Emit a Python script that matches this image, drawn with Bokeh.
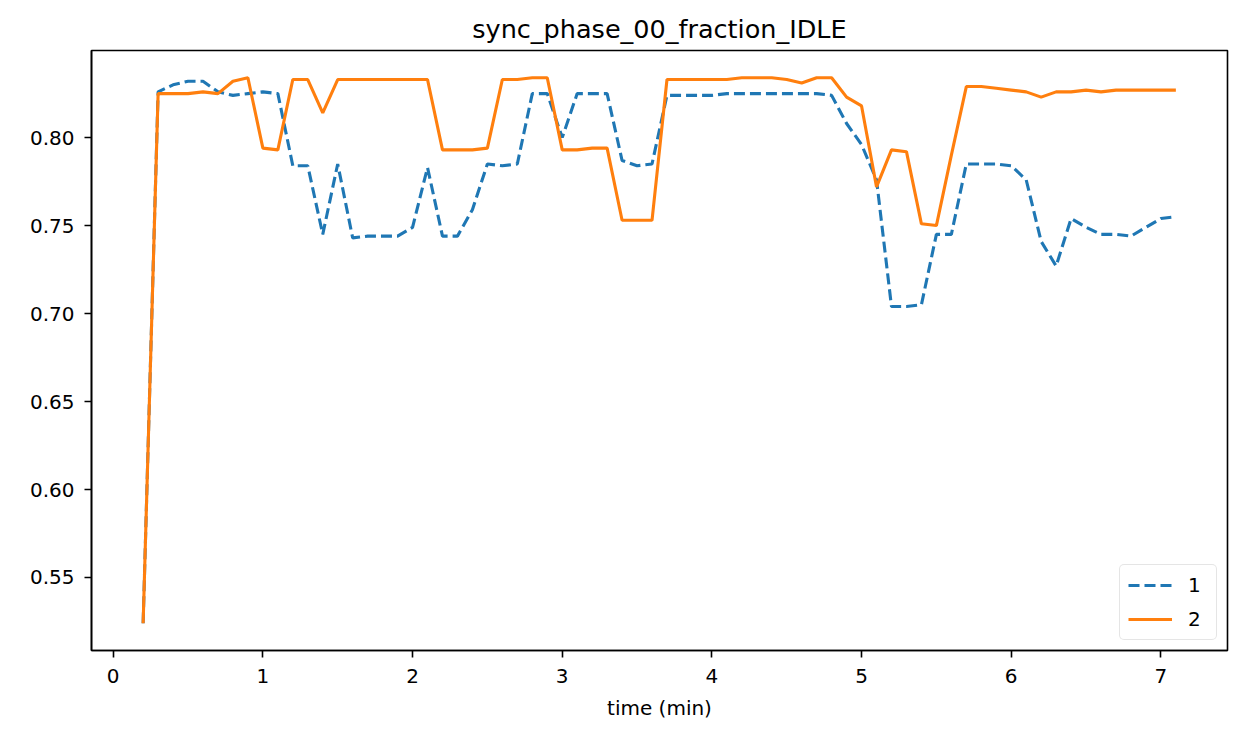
from bokeh.plotting import figure
from bokeh.models import Range1d, FixedTicker, PrintfTickFormatter, Legend, LegendItem
from bokeh.embed import file_html
from bokeh.resources import INLINE

time_min = [0.2, 0.3, 0.4, 0.5, 0.6, 0.7, 0.8, 0.9, 1.0, 1.1,
            1.2, 1.3, 1.4, 1.5, 1.6, 1.7, 1.8, 1.9, 2.0, 2.1,
            2.2, 2.3, 2.4, 2.5, 2.6, 2.7, 2.8, 2.9, 3.0, 3.1,
            3.2, 3.3, 3.4, 3.5, 3.6, 3.7, 3.8, 3.9, 4.0, 4.1,
            4.2, 4.3, 4.4, 4.5, 4.6, 4.7, 4.8, 4.9, 5.0, 5.1,
            5.2, 5.3, 5.4, 5.5, 5.6, 5.7, 5.8, 5.9, 6.0, 6.1,
            6.2, 6.3, 6.4, 6.5, 6.6, 6.7, 6.8, 6.9, 7.0, 7.1]

series_1 = [0.524, 0.826, 0.830, 0.832, 0.832, 0.826, 0.824, 0.825, 0.826, 0.825,
            0.784, 0.784, 0.745, 0.785, 0.743, 0.744, 0.744, 0.744, 0.749, 0.783,
            0.744, 0.744, 0.759, 0.785, 0.784, 0.785, 0.825, 0.825, 0.800, 0.825,
            0.825, 0.825, 0.787, 0.784, 0.785, 0.824, 0.824, 0.824, 0.824, 0.825,
            0.825, 0.825, 0.825, 0.825, 0.825, 0.825, 0.824, 0.808, 0.796, 0.776,
            0.704, 0.704, 0.705, 0.745, 0.745, 0.785, 0.785, 0.785, 0.784, 0.776,
            0.741, 0.727, 0.754, 0.749, 0.745, 0.745, 0.744, 0.749, 0.754, 0.755]

series_2 = [0.524, 0.825, 0.825, 0.825, 0.826, 0.825, 0.832, 0.834, 0.794, 0.793,
            0.833, 0.833, 0.814, 0.833, 0.833, 0.833, 0.833, 0.833, 0.833, 0.833,
            0.793, 0.793, 0.793, 0.794, 0.833, 0.833, 0.834, 0.834, 0.793, 0.793,
            0.794, 0.794, 0.753, 0.753, 0.753, 0.833, 0.833, 0.833, 0.833, 0.833,
            0.834, 0.834, 0.834, 0.833, 0.831, 0.834, 0.834, 0.823, 0.818, 0.772,
            0.793, 0.792, 0.751, 0.750, 0.790, 0.829, 0.829, 0.828, 0.827, 0.826,
            0.823, 0.826, 0.826, 0.827, 0.826, 0.827, 0.827, 0.827, 0.827, 0.827]

series_labels = ["1", "2"]
x_ticks = [0, 1, 2, 3, 4, 5, 6, 7]
y_ticks = [0.55, 0.60, 0.65, 0.70, 0.75, 0.80]

FONT = "DejaVu Sans"

# matplotlib-like 5% margins
xmin, xmax = min(time_min), max(time_min)
all_y = series_1 + series_2
ymin, ymax = min(all_y), max(all_y)
xpad = (xmax - xmin) * 0.05
ypad = (ymax - ymin) * 0.05

p = figure(frame_width=1136, frame_height=600,
           min_border_left=91, min_border_right=8,
           min_border_top=50, min_border_bottom=77,
           output_backend="svg", toolbar_location=None,
           x_range=Range1d(xmin - xpad, xmax + xpad),
           y_range=Range1d(ymin - ypad, ymax + ypad),
           title="sync_phase_00_fraction_IDLE")

p.title.align = "center"
p.title.text_font = FONT
p.title.text_font_size = "25.5px"
p.title.text_font_style = "normal"
p.title.text_color = "black"
p.title.standoff = 14

p.grid.visible = False
p.outline_line_color = "black"
p.outline_line_width = 1.6
p.background_fill_color = "white"
p.border_fill_color = "white"

for ax in (p.xaxis[0], p.yaxis[0]):
    ax.axis_line_color = "black"
    ax.axis_line_width = 1.6
    ax.major_tick_line_color = "black"
    ax.major_tick_line_width = 1.6
    ax.major_tick_out = 7
    ax.major_tick_in = 0
    ax.minor_tick_line_color = None
    ax.major_label_text_font = FONT
    ax.major_label_text_font_size = "20px"
    ax.major_label_text_color = "black"

p.xaxis.major_label_standoff = 11
p.yaxis.major_label_standoff = 10

p.xaxis.ticker = FixedTicker(ticks=x_ticks)
p.yaxis.ticker = FixedTicker(ticks=y_ticks)
p.yaxis.formatter = PrintfTickFormatter(format="%.2f")

p.xaxis.axis_label = "time (min)"
p.xaxis.axis_label_text_font = FONT
p.xaxis.axis_label_text_font_size = "20px"
p.xaxis.axis_label_text_font_style = "normal"
p.xaxis.axis_label_text_color = "black"
p.xaxis.axis_label_standoff = 10

r1 = p.line(time_min, series_1, line_color="#1f77b4", line_width=3.1,
            line_dash="11 5")
r2 = p.line(time_min, series_2, line_color="#ff7f0e", line_width=3.1)

legend = Legend(items=[LegendItem(label=series_labels[0], renderers=[r1]),
                       LegendItem(label=series_labels[1], renderers=[r2])],
                location="bottom_right")
legend.margin = 10
legend.padding = 8
legend.spacing = 10
legend.glyph_width = 44
legend.glyph_height = 22
legend.label_height = 22
legend.label_standoff = 16
legend.label_text_font = FONT
legend.label_text_font_size = "20px"
legend.label_text_color = "black"
legend.label_text_baseline = "middle"
legend.border_line_color = "#cccccc"
legend.border_line_width = 1.5
legend.background_fill_color = "white"
legend.background_fill_alpha = 0.8
if "border_radius" in legend.properties():
    legend.border_radius = 5
p.add_layout(legend)

open("out.html", "w").write(file_html(p, INLINE))
